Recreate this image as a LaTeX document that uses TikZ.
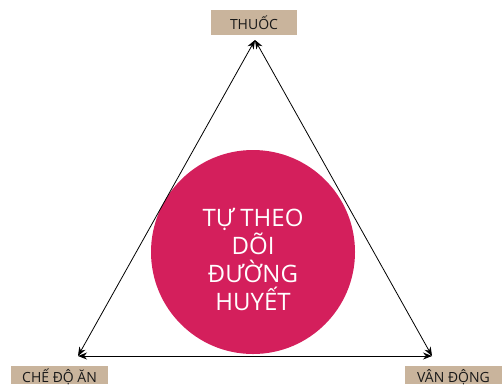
\documentclass[tikz,border=0pt]{standalone}
\usepackage{fontspec}
\setmainfont{Open Sans}
\usetikzlibrary{arrows.meta}
\definecolor{tan}{HTML}{C9B49C}
\definecolor{rosered}{HTML}{D41F5C}
\begin{document}
\begin{tikzpicture}[x=1pt,y=-1pt,
  lbl/.style={fill=tan,inner sep=0pt,font=\fontsize{14}{16}\selectfont,text=black!90},
  edge/.style={line width=0.8pt,{Stealth[length=9pt,width=7pt]}-{Stealth[length=9pt,width=7pt]}}]
\useasboundingbox (0,0) rectangle (502,384);
\coordinate (T) at (255,40);
\coordinate (L) at (78,356);
\coordinate (R) at (432,356);
\node[circle,fill=rosered,minimum size=204pt,inner sep=0pt] (c) at (253,252) {};
\node[text=white,align=center,font=\fontsize{24}{28}\selectfont] (ct) at (253,259) {TỰ THEO\\DÕI\\ĐƯỜNG\\HUYẾT};
\draw[edge] (T) -- (L);
\draw[edge] (L) -- (R);
\draw[edge] (R) -- (T);
\node[lbl,minimum width=86pt,minimum height=25pt] (thuoc) at (254,22.5) {THUỐC};
\fill[tan] (11,366) rectangle (108,384);
\fill[tan] (405,366) rectangle (502,384);
\node[lbl,fill=none,anchor=base] (che) at (59.5,382) {CHẾ ĐỘ ĂN};
\node[lbl,fill=none,anchor=base] (van) at (453.5,382) {VÂN ĐỘNG};
\end{tikzpicture}
\end{document}
